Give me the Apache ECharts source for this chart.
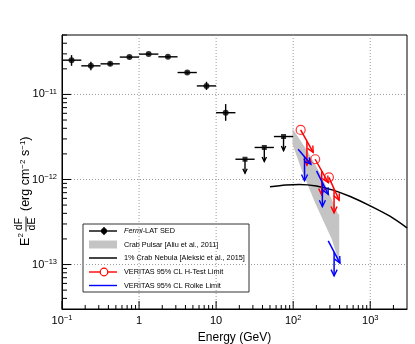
<!DOCTYPE html>
<html>
<head>
<meta charset="utf-8">
<script src="https://cdn.jsdelivr.net/npm/echarts@6/dist/echarts.min.js"></script>
<style>
html, body { margin: 0; padding: 0; background: #fff; }
#chart { width: 415px; height: 344px; }
</style>
</head>
<body>
<div id="chart"></div>
<script>
// Fermi-LAT SED points (GeV, erg cm^-2 s^-1)
var fermiE    = [0.133, 0.237, 0.422, 0.750, 1.33, 2.37, 4.22, 7.50, 13.3];
var fermiLo   = [0.1, 0.178, 0.316, 0.562, 1.0, 1.78, 3.16, 5.62, 10];
var fermiHi   = [0.178, 0.316, 0.562, 1.0, 1.78, 3.16, 5.62, 10, 17.8];
var fermiF    = [2.53e-11, 2.17e-11, 2.29e-11, 2.75e-11, 2.98e-11, 2.77e-11, 1.81e-11, 1.26e-11, 6.1e-12];
var fermiErrL = [2.17e-11, 1.93e-11, 2.18e-11, 2.65e-11, 2.9e-11, 2.68e-11, 1.74e-11, 1.13e-11, 4.9e-12];
var fermiErrH = [2.9e-11, 2.42e-11, 2.4e-11, 2.85e-11, 3.06e-11, 2.86e-11, 1.88e-11, 1.41e-11, 7.7e-12];

// Fermi-LAT upper limits
var ulE  = [23.7, 42.2, 75.0];
var ulLo = [17.8, 31.6, 56.2];
var ulHi = [31.6, 56.2, 100];
var ulF  = [1.73e-12, 2.38e-12, 3.2e-12];

// Crab pulsar band (Aliu et al. 2011)
var bandUpE = [98, 157, 234, 384, 396];
var bandUpF = [3.98e-12, 2.08e-12, 1.1e-12, 3.9e-13, 3.9e-13];
var bandLoE = [396, 316, 191, 128, 98];
var bandLoF = [1.05e-13, 2.0e-13, 5.4e-13, 1.32e-12, 2.6e-12];

// 1% Crab Nebula
var nebE = [50, 80, 120, 200, 330, 550, 1000, 1800, 3000];
var nebF = [8.2e-13, 8.6e-13, 8.75e-13, 8.4e-13, 7.5e-13, 6.3e-13, 4.9e-13, 3.7e-13, 2.7e-13];

// VERITAS H-Test limits (start / end of each segment)
var htE1 = [125, 193, 291];
var htF1 = [3.83e-12, 1.73e-12, 1.06e-12];
var htE2 = [182, 285, 395];
var htF2 = [2.08e-12, 9.2e-13, 5.7e-13];

// VERITAS Rolke limits
var rkE1 = [116, 201, 285];
var rkF1 = [2.27e-12, 1.26e-12, 1.9e-13];
var rkE2 = [170, 285, 405];
var rkF2 = [1.51e-12, 6.7e-13, 1.04e-13];

// axes
var xMin = 0.1, xMax = 3000;
var yMin = 3e-14, yMax = 5e-11;
var xMajor = [0.1, 1, 10, 100, 1000];
var yMajor = [1e-13, 1e-12, 1e-11];

var FONT = 'Liberation Sans, Arial, Helvetica, sans-serif';

function ln(x1, y1, x2, y2, color, w, dash) {
	return {
		type: 'line',
		shape: {x1: x1, y1: y1, x2: x2, y2: y2},
		style: {stroke: color, lineWidth: w || 1, lineDash: dash || null}
	};
}

function arrowHead(tx, ty, fx, fy, color, size) {
	var dx = tx - fx, dy = ty - fy;
	var len = Math.sqrt(dx * dx + dy * dy) || 1;
	dx /= len; dy /= len;
	var a = 0.45, s = size || 5;
	var c = Math.cos(a), sn = Math.sin(a);
	var l1x = tx - s * (dx * c - dy * sn), l1y = ty - s * (dy * c + dx * sn);
	var l2x = tx - s * (dx * c + dy * sn), l2y = ty - s * (dy * c - dx * sn);
	return {
		type: 'polyline',
		shape: {points: [[l1x, l1y], [tx, ty], [l2x, l2y]]},
		style: {stroke: color, lineWidth: 1.4, fill: null}
	};
}

function supLabel(v) {
	var e = Math.round(Math.log10(v));
	if (Math.abs(Math.log10(v) - e) > 1e-6) return '';
	if (e === 0) return '{b|1}';
	if (e === 1) return '{b|10}';
	return '{b|10}{s|' + (e < 0 ? '\u2212' + (-e) : e) + '}';
}

var labelRich = {
	b: {fontSize: 11, fontFamily: FONT, color: '#000', lineHeight: 14},
	s: {fontSize: 7.5, fontFamily: FONT, color: '#000', verticalAlign: 'top', lineHeight: 9}
};

// gridlines + ticks
function renderFrame(params, api) {
	var ch = [];
	var p0 = api.coord([xMin, yMin]), p1 = api.coord([xMax, yMax]);
	var left = p0[0], bottom = p0[1], right = p1[0], top = p1[1];
	var i, m, v, p;
	xMajor.forEach(function (v) {
		var px = api.coord([v, yMin])[0];
		if (v > xMin && v < xMax) ch.push(ln(px, bottom, px, top, '#9a9a9a', 1, [1, 2]));
		ch.push(ln(px, bottom, px, bottom - 8, '#000', 1));
	});
	yMajor.forEach(function (v) {
		var py = api.coord([xMin, v])[1];
		ch.push(ln(left, py, right, py, '#9a9a9a', 1, [1, 2]));
		ch.push(ln(left, py, left + 9, py, '#000', 1));
	});
	for (i = 0; i < xMajor.length; i++) {
		for (m = 2; m <= 9; m++) {
			v = xMajor[i] * m;
			if (v >= xMax) continue;
			p = api.coord([v, yMin])[0];
			ch.push(ln(p, bottom, p, bottom - 4, '#000', 1));
		}
	}
	var yDec = [1e-14, 1e-13, 1e-12, 1e-11];
	for (i = 0; i < yDec.length; i++) {
		for (m = 2; m <= 9; m++) {
			v = yDec[i] * m;
			if (v <= yMin || v >= yMax) continue;
			p = api.coord([xMin, v])[1];
			ch.push(ln(left, p, left + 5, p, '#000', 1));
		}
	}
	return {type: 'group', children: ch};
}

function renderBand(params, api) {
	var pts = [];
	bandUpE.forEach(function (e, i) { pts.push(api.coord([e, bandUpF[i]])); });
	bandLoE.forEach(function (e, i) { pts.push(api.coord([e, bandLoF[i]])); });
	return {type: 'polygon', shape: {points: pts}, style: {fill: '#c4c4c4', stroke: null}};
}

function renderFermiErr(params, api) {
	var i = api.value(2);
	var a = api.coord([fermiLo[i], fermiF[i]]), b = api.coord([fermiHi[i], fermiF[i]]);
	var c = api.coord([fermiE[i], fermiErrL[i]]), d = api.coord([fermiE[i], fermiErrH[i]]);
	return {type: 'group', children: [
		ln(a[0], a[1], b[0], b[1], '#000', 1.4),
		ln(c[0], c[1], d[0], d[1], '#000', 1.4)
	]};
}

function renderUL(params, api) {
	var i = api.value(2);
	var a = api.coord([ulLo[i], ulF[i]]), b = api.coord([ulHi[i], ulF[i]]);
	var c = api.coord([ulE[i], ulF[i]]);
	var tip = c[1] + 14;
	return {type: 'group', children: [
		ln(a[0], a[1], b[0], b[1], '#000', 1.4),
		ln(c[0], c[1], c[0], tip, '#000', 1.4),
		arrowHead(c[0], tip, c[0], c[1], '#000', 5)
	]};
}

function makeLimitRender(E1, F1, E2, F2, color) {
	return function (params, api) {
		var i = api.value(2);
		var a = api.coord([E1[i], F1[i]]), b = api.coord([E2[i], F2[i]]);
		var mid = api.coord([Math.sqrt(E1[i] * E2[i]), Math.sqrt(F1[i] * F2[i])]);
		var tip = mid[1] + 24;
		return {type: 'group', children: [
			ln(a[0], a[1], b[0], b[1], color, 1.5),
			arrowHead(b[0], b[1], a[0], a[1], color, 7),
			ln(mid[0], mid[1], mid[0], tip, color, 1.5),
			arrowHead(mid[0], tip, mid[0], mid[1], color, 7)
		]};
	};
}

function idx(arr, vals) {
	return arr.map(function (e, i) { return [e, vals[i], i]; });
}

// legend, drawn as graphic
var LX = 83, LY = 224, LW = 166, LH = 68;
var rows = [231, 244.5, 258, 272, 285.5];
var txtX = 124;
function legText(t, y, rich) {
	return {type: 'text', x: txtX, y: y, style: {text: t, fontSize: 7.3, fontFamily: FONT, fill: '#000',
		verticalAlign: 'middle', align: 'left', rich: rich}};
}
var legend = {
	type: 'group',
	children: [
		{type: 'rect', shape: {x: LX, y: LY, width: LW, height: LH}, style: {fill: '#fff', stroke: '#333', lineWidth: 1}},
		ln(89, rows[0], 117, rows[0], '#000', 1.4),
		ln(104, rows[0] - 4, 104, rows[0] + 4, '#000', 1.4),
		{type: 'circle', shape: {cx: 104, cy: rows[0], r: 3}, style: {fill: '#000'}},
		legText('{i|Fermi}-LAT SED', rows[0], {i: {fontStyle: 'italic', fontSize: 7.3, fontFamily: FONT}}),
		{type: 'rect', shape: {x: 89, y: rows[1] - 4, width: 28, height: 8}, style: {fill: '#c4c4c4'}},
		legText('Crab Pulsar [Aliu et al., 2011]', rows[1]),
		ln(89, rows[2], 117, rows[2], '#444', 2),
		legText('1% Crab Nebula [Aleksi\u0107 et al., 2015]', rows[2]),
		ln(89, rows[3], 117, rows[3], '#f00', 1.4),
		{type: 'circle', shape: {cx: 104, cy: rows[3], r: 3.8}, style: {fill: '#fff', stroke: '#f00', lineWidth: 1.2}},
		legText('VERITAS 95% CL H-Test Limit', rows[3]),
		ln(89, rows[4], 117, rows[4], '#00f', 1.4),
		legText('VERITAS 95% CL Rolke Limit', rows[4])
	]
};

// y-axis title with fraction
var yTitle = {
	type: 'group',
	x: 26, y: 184,
	rotation: Math.PI / 2,
	children: [
		{type: 'text', x: -62, y: 0, style: {text: 'E', fontSize: 12.5, fontFamily: FONT, fill: '#000', verticalAlign: 'middle'}},
		{type: 'text', x: -53.5, y: -5.5, style: {text: '2', fontSize: 8, fontFamily: FONT, fill: '#000', verticalAlign: 'middle'}},
		{type: 'text', x: -40, y: -6.5, style: {text: 'dF', fontSize: 10.5, fontFamily: FONT, fill: '#000', align: 'center', verticalAlign: 'middle'}},
		ln(-47.5, 0, -32.5, 0, '#000', 0.9),
		{type: 'text', x: -40, y: 6.5, style: {text: 'dE', fontSize: 10.5, fontFamily: FONT, fill: '#000', align: 'center', verticalAlign: 'middle'}},
		{type: 'text', x: -27, y: 0, style: {text: '{b|(erg cm}{s|\u22122}{b| s}{s|\u22121}{b|)}', verticalAlign: 'middle',
			rich: {b: {fontSize: 12.5, fontFamily: FONT, fill: '#000', lineHeight: 14},
				s: {fontSize: 8, fontFamily: FONT, fill: '#000', verticalAlign: 'top', lineHeight: 9}}}}
	]
};

var chart = echarts.init(document.getElementById('chart'));
var option = {
	animation: false,
	backgroundColor: '#fff',
	grid: {left: 62, right: 8, top: 35, bottom: 35, containLabel: false, outerBoundsMode: 'none',
		show: true, borderColor: '#000', borderWidth: 1, backgroundColor: 'transparent'},
	xAxis: {
		type: 'log', logBase: 10, min: xMin, max: xMax,
		name: 'Energy (GeV)', nameLocation: 'middle', nameGap: 20,
		nameTextStyle: {fontSize: 12, fontFamily: FONT, color: '#000'},
		axisLine: {show: true, lineStyle: {color: '#000'}},
		axisTick: {show: false}, splitLine: {show: false}, minorTick: {show: false},
		axisLabel: {margin: 5, formatter: supLabel, rich: labelRich, showMinLabel: true, showMaxLabel: true}
	},
	yAxis: {
		type: 'log', logBase: 10, min: yMin, max: yMax,
		axisLine: {show: true, lineStyle: {color: '#000'}},
		axisTick: {show: false}, splitLine: {show: false},
		axisLabel: {margin: 5, formatter: supLabel, rich: labelRich}
	},
	graphic: [legend, yTitle],
	series: [
		{type: 'custom', z: 1, silent: true, data: [[1, 1e-12, 0]], renderItem: renderFrame, clip: false},
		{type: 'custom', z: 2, silent: true, data: [[100, 1e-12, 0]], renderItem: renderBand},
		{type: 'line', z: 3, data: idx(nebE, nebF), smooth: 0.3, symbol: 'none', lineStyle: {color: '#000', width: 1.5}},
		{type: 'custom', z: 4, data: idx(fermiE, fermiF), renderItem: renderFermiErr},
		{type: 'scatter', z: 5, data: idx(fermiE, fermiF), symbol: 'circle', symbolSize: 6, itemStyle: {color: '#000'}},
		{type: 'custom', z: 4, data: idx(ulE, ulF), renderItem: renderUL},
		{type: 'scatter', z: 5, data: idx(ulE, ulF), symbol: 'rect', symbolSize: 5, itemStyle: {color: '#000'}},
		{type: 'custom', z: 6, data: idx(htE1, htF1), renderItem: makeLimitRender(htE1, htF1, htE2, htF2, '#f00')},
		{type: 'scatter', z: 7, data: idx(htE1, htF1), symbol: 'circle', symbolSize: 9,
			itemStyle: {color: 'rgba(255,255,255,0)', borderColor: '#f00', borderWidth: 1.2}},
		{type: 'custom', z: 6, data: idx(rkE1, rkF1), renderItem: makeLimitRender(rkE1, rkF1, rkE2, rkF2, '#00f')}
	]
};
chart.setOption(option);
</script>
</body>
</html>
